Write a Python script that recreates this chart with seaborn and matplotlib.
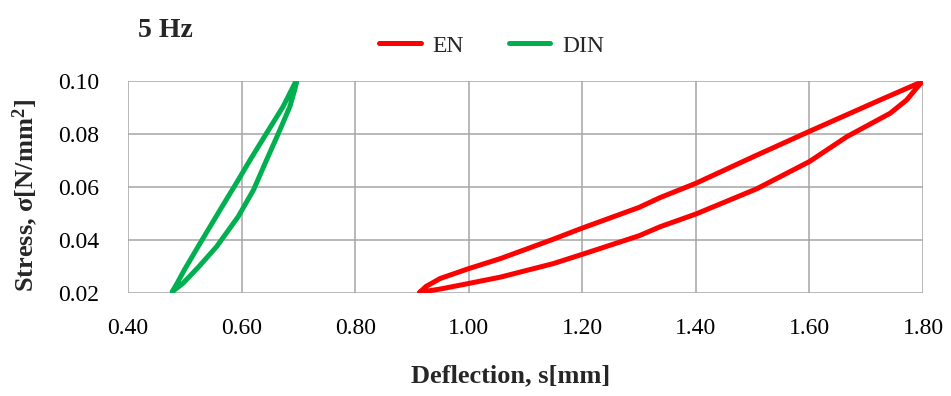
import numpy as np
import pandas as pd
import matplotlib
matplotlib.use("Agg")
import matplotlib.pyplot as plt
import seaborn as sns

# ---- data (deflection in mm, stress in N/mm2) ----
EN_X = [0.914, 0.95, 1.00, 1.056, 1.149, 1.20, 1.30, 1.337, 1.40, 1.507, 1.60, 1.666, 1.742, 1.771, 1.798,
        1.724, 1.60, 1.501, 1.40, 1.337, 1.30, 1.20, 1.144, 1.056, 1.00, 0.95, 0.925, 0.914]
EN_Y = [0.0203, 0.0215, 0.0236, 0.026, 0.0311, 0.0346, 0.0416, 0.045, 0.0498, 0.0593, 0.0696, 0.079, 0.0878, 0.0928, 0.0997,
        0.0928, 0.081, 0.0714, 0.0614, 0.056, 0.0523, 0.0445, 0.0399, 0.033, 0.0292, 0.0255, 0.0225, 0.0203]
DIN_X = [0.478, 0.497, 0.525, 0.556, 0.594, 0.621, 0.644, 0.665, 0.685, 0.694, 0.697,
         0.694, 0.673, 0.644, 0.615, 0.594, 0.562, 0.527, 0.500, 0.486, 0.478]
DIN_Y = [0.0205, 0.0237, 0.030, 0.0375, 0.0488, 0.0589, 0.0702, 0.0803, 0.0903, 0.0970, 0.0997,
         0.0992, 0.0903, 0.0803, 0.0702, 0.0626, 0.0513, 0.0388, 0.0290, 0.0235, 0.0205]
X_TICKS = [0.40, 0.60, 0.80, 1.00, 1.20, 1.40, 1.60, 1.80]
Y_TICKS = [0.02, 0.04, 0.06, 0.08, 0.10]

RED, GREEN, GRID = "#FF0000", "#00B050", "#A6A6A6"

df = pd.concat([
    pd.DataFrame({"s": EN_X, "sigma": EN_Y, "curve": "EN"}),
    pd.DataFrame({"s": DIN_X, "sigma": DIN_Y, "curve": "DIN"}),
])

sns.set_theme(style="white")
plt.rcParams["font.family"] = ["Liberation Serif", "DejaVu Serif"]
plt.rcParams["mathtext.fontset"] = "custom"
plt.rcParams["mathtext.rm"] = "Liberation Serif"
plt.rcParams["mathtext.bf"] = "Liberation Serif:bold"

fig = plt.figure(figsize=(9.51, 3.96), dpi=100)
ax = fig.add_axes([0.1346, 0.2601, 0.8360, 0.5354])

sns.lineplot(data=df, x="s", y="sigma", hue="curve", hue_order=["EN", "DIN"],
             palette={"EN": RED, "DIN": GREEN}, sort=False, estimator=None,
             linewidth=3.6, ax=ax, legend=False,
             solid_joinstyle="round", solid_capstyle="round")

ax.set_xlim(0.40, 1.80)
ax.set_ylim(0.02, 0.10)
ax.set_xticks(X_TICKS)
ax.set_yticks(Y_TICKS)
ax.set_xticklabels([f"{v:.2f}" for v in X_TICKS])
ax.set_yticklabels([f"{v:.2f}" for v in Y_TICKS])
ax.grid(True, color=GRID, linewidth=1.1)
ax.set_axisbelow(True)
for sp in ax.spines.values():
    sp.set_visible(False)
ax.tick_params(axis="both", direction="out", length=6, width=1.1, color=GRID,
               labelsize=17, labelcolor="black", pad=12)
ax.tick_params(axis="y", pad=15)

ax.set_xlabel("Deflection, s[mm]", fontsize=19, fontweight="bold")
ax.xaxis.set_label_coords(0.481, -0.335)
ax.set_ylabel("Stress, σ[N/mm$\\mathbf{^2}$]", fontsize=19, fontweight="bold")
ax.yaxis.set_label_coords(-0.111, 0.46)

fig.text(0.145, 0.924, "5 Hz", fontsize=20, fontweight="bold", va="center", ha="left")

handles = [plt.Line2D([], [], color=RED, linewidth=3.6),
           plt.Line2D([], [], color=GREEN, linewidth=3.6)]
fig.legend(handles, ["EN", "DIN"], loc="center", bbox_to_anchor=(0.517, 0.884), ncol=2,
           frameon=False, fontsize=17, handlelength=1.75, handletextpad=0.5, columnspacing=1.9)

fig.savefig("out.png", dpi=100)
